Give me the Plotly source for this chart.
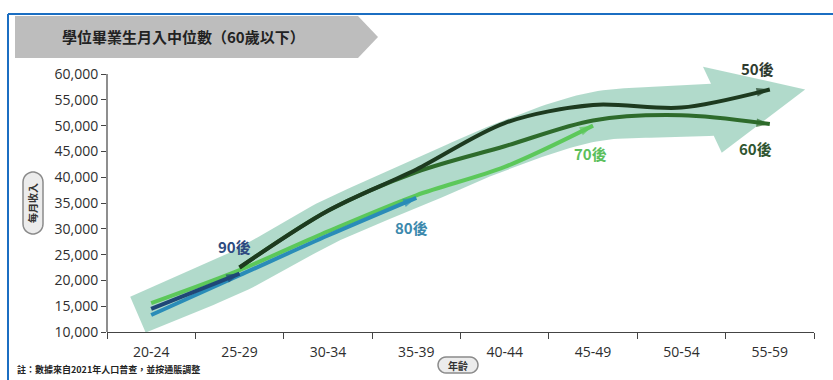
import numpy as np
import plotly.graph_objects as go

# ---- data -------------------------------------------------------------
ages = ["20-24", "25-29", "30-34", "35-39", "40-44", "45-49", "50-54", "55-59"]
y_ticks = [10000, 15000, 20000, 25000, 30000, 35000, 40000, 45000, 50000, 55000, 60000]

cohorts = ["50後", "60後", "70後", "80後", "90後"]
income_50s = [None, 22500, 33500, 41500, 50500, 54000, 53500, 57000]
income_60s = [None, 22500, 33500, 41000, 46000, 51000, 52000, 50300]
income_70s = [15600, 22000, 29500, 36500, 42000, 50000, None, None]
income_80s = [13300, 21000, 28700, 36000, None, None, None, None]
income_90s = [14500, 21300, None, None, None, None, None, None]

line_colors = {"50後": "#1d3a1f", "60後": "#2e6b2b", "70後": "#5cc85a",
               "80後": "#2a8cb8", "90後": "#1f4777"}
label_colors = {"50後": "#2f3b2f", "60後": "#2f5530", "70後": "#5cbf5c",
                "80後": "#3c89ad", "90後": "#2e4a80"}
label_offsets = {"50後": (-12, 21), "60後": (-14, -24), "70後": (-3, -28),
                 "80後": (-5, -30), "90後": (-5, 27)}
series = {"50後": income_50s, "60後": income_60s, "70後": income_70s,
          "80後": income_80s, "90後": income_90s}
draw_order = ["70後", "80後", "90後", "60後", "50後"]

# ---- page geometry ----------------------------------------------------
W, H = 833, 380
ML, MR, MT, MB = 107, 19, 56, 48
PW, PH = W - ML - MR, H - MT - MB
X_RANGE = [-0.5, len(ages) - 0.5]
Y_MIN = y_ticks[0]
Y_RANGE = [Y_MIN, Y_MIN + PH * (y_ticks[-1] - Y_MIN) / 258.0]

px_per_cat = PW / (X_RANGE[1] - X_RANGE[0])
px_per_val = PH / (Y_RANGE[1] - Y_RANGE[0])


def to_px(t, v):
    return ML + (np.asarray(t) - X_RANGE[0]) * px_per_cat, MT + PH - (np.asarray(v) - Y_RANGE[0]) * px_per_val


def from_px(x, y):
    return (np.asarray(x) - ML) / px_per_cat + X_RANGE[0], (MT + PH - np.asarray(y)) / px_per_val + Y_RANGE[0]


def paper(x, y):
    return (x - ML) / PW, (MT + PH - y) / PH


def path_from_px(points):
    pts = [paper(x, y) for x, y in points]
    return "M" + " L".join(f"{a:.5f},{b:.5f}" for a, b in pts) + " Z"


def pill(cx, cy, w, h):
    r = min(w, h) / 2.0
    pts = []
    if w >= h:
        for a in np.linspace(np.pi / 2, 3 * np.pi / 2, 14):
            pts.append((cx - w / 2 + r + r * np.cos(a), cy - r * np.sin(a)))
        for a in np.linspace(-np.pi / 2, np.pi / 2, 14):
            pts.append((cx + w / 2 - r + r * np.cos(a), cy - r * np.sin(a)))
    else:
        for a in np.linspace(0, np.pi, 14):
            pts.append((cx + r * np.cos(a), cy - h / 2 + r - r * np.sin(a)))
        for a in np.linspace(np.pi, 2 * np.pi, 14):
            pts.append((cx + r * np.cos(a), cy + h / 2 - r - r * np.sin(a)))
    return path_from_px(pts)


# ---- broad trend arrow behind the lines ------------------------------
idx = np.arange(len(ages))
centre = np.array([np.mean([s[i] for s in series.values() if s[i] is not None]) for i in idx])
tops = np.array([max(s[i] for s in series.values() if s[i] is not None) for i in idx])


def catmull_rom(t):
    out = np.empty_like(t)
    n = len(centre)
    tang = np.gradient(centre)
    for k, tv in enumerate(t):
        if tv <= 0:
            out[k] = centre[0] + tv * (centre[1] - centre[0])
            continue
        i = min(int(np.floor(tv)), n - 2)
        u = tv - i
        h00 = 2 * u**3 - 3 * u**2 + 1
        h10 = u**3 - 2 * u**2 + u
        h01 = -2 * u**3 + 3 * u**2
        h11 = u**3 - u**2
        out[k] = h00 * centre[i] + h10 * tang[i] + h01 * centre[i + 1] + h11 * tang[i + 1]
    return out


t_dense = np.linspace(-0.15, 6.35, 120)
cx, cy = to_px(t_dense, catmull_rom(t_dense))
dx, dy = np.gradient(cx), np.gradient(cy)
norm = np.hypot(dx, dy)
nx, ny = dy / norm, -dx / norm          # normal pointing upward on screen
half = np.linspace(19.5, 26, len(t_dense))
upper = (cx + nx * half, cy + ny * half)
lower = (cx - nx * half, cy - ny * half)

ex, ey = cx[-1], cy[-1]
tipx, tipy = to_px(len(ages) - 0.6, tops[-1])
ddx, ddy = tipx - ex, tipy - ey
dl = np.hypot(ddx, ddy)
hnx, hny = ddy / dl, -ddx / dl
head_top = (ex + hnx * 44, ey + hny * 44)
head_bot = (ex - hnx * 44, ey - hny * 44)

poly_x = list(upper[0]) + [head_top[0], tipx, head_bot[0]] + list(lower[0][::-1])
poly_y = list(upper[1]) + [head_top[1], tipy, head_bot[1]] + list(lower[1][::-1])
band_t, band_v = from_px(np.array(poly_x), np.array(poly_y))

fig = go.Figure()
fig.add_trace(go.Scatter(x=band_t, y=band_v, mode="lines", fill="toself",
                         fillcolor="rgba(163,211,194,0.85)", line=dict(width=0),
                         hoverinfo="skip", showlegend=False))

# ---- cohort lines ------------------------------------------------------
for name in draw_order:
    vals = series[name]
    xs = [i for i, v in enumerate(vals) if v is not None]
    ys = [v for v in vals if v is not None]
    sizes = [0] * (len(xs) - 1) + [14]
    fig.add_trace(go.Scatter(
        x=xs, y=ys, mode="lines+markers", name=name, showlegend=False,
        line=dict(color=line_colors[name], width=4, shape="spline", smoothing=0.9),
        marker=dict(symbol="arrow", size=sizes, angleref="previous",
                    color=line_colors[name], line=dict(width=0)),
        cliponaxis=False,
    ))
    ox, oy = label_offsets[name]
    fig.add_annotation(x=xs[-1], y=ys[-1], text=f"<b>{name}</b>", showarrow=False,
                       xshift=ox, yshift=oy, xanchor="center", yanchor="middle",
                       font=dict(family="Noto Sans CJK TC", size=15, color=label_colors[name]))

# ---- decorations -------------------------------------------------------
shapes = []
# frame lines
shapes.append(dict(type="line", xref="paper", yref="paper",
                   x0=paper(8, 14)[0], y0=paper(8, 14)[1], x1=paper(W, 14)[0], y1=paper(W, 14)[1],
                   line=dict(color="#1b6ec2", width=2)))
shapes.append(dict(type="line", xref="paper", yref="paper",
                   x0=paper(8, 14)[0], y0=paper(8, 14)[1], x1=paper(8, H)[0], y1=paper(8, H)[1],
                   line=dict(color="#1b6ec2", width=2)))
# title banner
shapes.append(dict(type="path", xref="paper", yref="paper",
                   path=path_from_px([(15, 16), (358, 16), (378, 37), (358, 58), (15, 58)]),
                   fillcolor="#bdbdbd", line=dict(width=0), layer="below"))
# y axis line (stops at the top tick)
shapes.append(dict(type="line", xref="paper", yref="y", x0=0, x1=0,
                   y0=y_ticks[0], y1=y_ticks[-1], line=dict(color="#444", width=1.2)))
# axis-title pills
shapes.append(dict(type="path", xref="paper", yref="paper", path=pill(33, 203, 20, 62),
                   fillcolor="#ececec", line=dict(color="#8a8a8a", width=1.5)))
shapes.append(dict(type="path", xref="paper", yref="paper", path=pill(458, 365, 40, 16),
                   fillcolor="#ececec", line=dict(color="#8a8a8a", width=1.5)))

annotations = [
    dict(xref="paper", yref="paper", x=paper(60, 37)[0], y=paper(60, 37)[1],
         xanchor="left", yanchor="middle", showarrow=False,
         text="<b>學位畢業生月入中位數（60歲以下）</b>",
         font=dict(family="Noto Sans CJK TC", size=15, color="#222")),
    dict(xref="paper", yref="paper", x=paper(33, 203)[0], y=paper(33, 203)[1],
         xanchor="center", yanchor="middle",
         showarrow=False, textangle=-90, text="<b>每月收入</b>",
         font=dict(family="Noto Sans CJK TC", size=10, color="#333")),
    dict(xref="paper", yref="paper", x=paper(458, 365)[0], y=paper(458, 365)[1],
         xanchor="center", yanchor="middle",
         showarrow=False, text="<b>年齡</b>",
         font=dict(family="Noto Sans CJK TC", size=10, color="#333")),
    dict(xref="paper", yref="paper", x=paper(15, 369)[0], y=paper(15, 369)[1],
         xanchor="left", yanchor="middle", showarrow=False,
         text="<b>註：數據來自2021年人口普查，並按通脹調整</b>",
         font=dict(family="Noto Sans CJK TC", size=9, color="#222")),
]
for a in annotations:
    fig.add_annotation(**a)

fig.update_layout(
    width=W, height=H, margin=dict(l=ML, r=MR, t=MT, b=MB),
    paper_bgcolor="white", plot_bgcolor="white",
    shapes=shapes,
    font=dict(family="Open Sans", size=14, color="#2e2e2e"),
    xaxis=dict(range=X_RANGE, tickvals=list(idx), ticktext=ages, ticks="",
               showline=True, linecolor="#444", linewidth=1.2, showgrid=False,
               zeroline=False, ticklabelstandoff=7,
               minor=dict(tickvals=[i - 0.5 for i in range(len(ages) + 1)], ticks="outside",
                          ticklen=6, tickcolor="#444", tickwidth=1)),
    yaxis=dict(range=Y_RANGE, tickvals=y_ticks, ticktext=[f"{v:,}" for v in y_ticks],
               ticks="outside", ticklen=5, tickcolor="#444", showline=False,
               showgrid=False, zeroline=False),
)

fig.write_html("out.html")
